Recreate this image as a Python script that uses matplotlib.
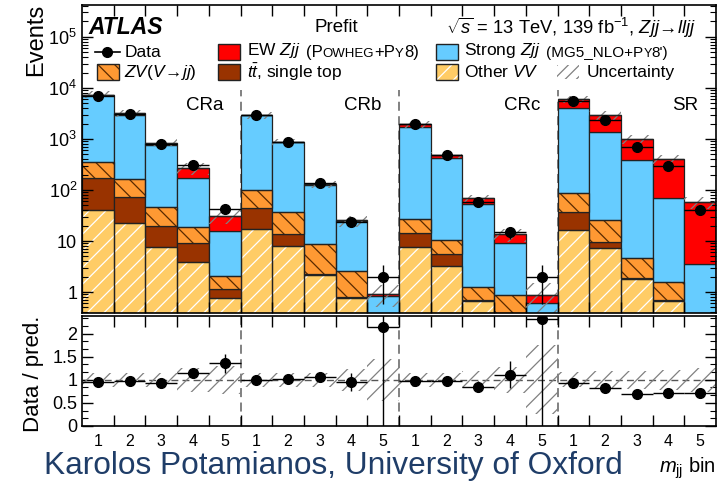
import matplotlib

matplotlib.use("Agg")

import matplotlib.pyplot as plt
import numpy as np
from matplotlib.patches import Rectangle
from matplotlib.lines import Line2D
from matplotlib.ticker import FixedLocator, NullFormatter, AutoMinorLocator

plt.rcParams["font.family"] = "Liberation Sans"
plt.rcParams["mathtext.fontset"] = "custom"
plt.rcParams["mathtext.rm"] = "Liberation Sans"
plt.rcParams["mathtext.it"] = "Liberation Sans:italic"
plt.rcParams["mathtext.bf"] = "Liberation Sans:bold"
plt.rcParams["hatch.linewidth"] = 0.9

# 20 bins: CRa, CRb, CRc, SR with 5 m_jj bins each
regions = ["CRa", "CRb", "CRc", "SR"]
bin_labels = ["1", "2", "3", "4", "5"] * 4

other_vv = [40, 23, 7.5, 3.9, 0.75,
            17.2, 8.1, 2.15, 0.75, 0.02,
            7.7, 3.2, 0.68, 0.3, 0.01,
            16.4, 7.2, 1.77, 0.68, 0.1]
ttbar = [132, 50, 12.5, 5.4, 0.38,
         27.8, 5.4, 0.15, 0.05, 0.01,
         6.4, 2.3, 0.02, 0.02, 0.005,
         21.2, 2.5, 0.1, 0.02, 0.01]
zv = [186, 92, 26, 9.2, 0.97,
      55, 24.1, 6.3, 1.8, 0.02,
      12.5, 4.9, 0.54, 0.55, 0.015,
      48.4, 16.3, 2.73, 0.85, 0.2]
strong_zjj = [6942, 2785, 714, 151.5, 13.8,
              2830, 815, 118, 22.2, 0.78,
              1713, 408, 51.8, 8.13, 0.57,
              4014, 1324, 382.4, 67.5, 3.2]
ew_zjj = [100, 250, 90, 97, 15.1,
          20, 7, 2.4, 0.5, 0.1,
          220, 72, 16, 4.5, 0.26,
          1900, 1530, 613, 336, 54]
data = [6990, 3136, 790, 307, 42,
        2920, 869, 138, 24, 2,
        1920, 480, 59, 15, 2,
        5520, 2390, 700, 292, 41]
rel_unc = [0.15, 0.15, 0.15, 0.26, 0.30,
           0.15, 0.15, 0.15, 0.24, 0.45,
           0.15, 0.15, 0.18, 0.28, 0.75,
           0.16, 0.20, 0.20, 0.22, 0.26]

c_vv = "#ffcc66"
c_tt = "#993300"
c_zv = "#ff9933"
c_strong = "#66ccff"
c_ew = "#ff0000"
c_unc = "#808080"

W, H = 720, 482


def fx(px):
    return px / W


def fy(py):
    return 1 - py / H


x = np.arange(1, 21)
data = np.array(data, dtype=float)
comps = [np.array(c, dtype=float) for c in (other_vv, ttbar, zv, strong_zjj, ew_zjj)]
total = np.sum(comps, axis=0)
unc = np.array(rel_unc)
ratio = data / total

fig = plt.figure(figsize=(7.2, 4.82), dpi=100)
ax = fig.add_axes([fx(82), fy(313), (716 - 82) / W, (313 - 5) / H])
rax = fig.add_axes([fx(82), fy(426), (716 - 82) / W, (426 - 316) / H])

ymin, ymax = 0.39, 4.2e5

# region separators sit behind the stack
for xs in (5.5, 10.5, 15.5):
    ax.plot([xs, xs], [ymin, 9e3], ls=(0, (5, 3)), color="#777777", lw=1.3, zorder=0.5)
    rax.axvline(xs, ls=(0, (5, 3)), color="#777777", lw=1.3, zorder=0.5)

# stacked backgrounds
bottom = np.full(20, 1e-3)
styles = [(c_vv, "//", "white"), (c_tt, None, None), (c_zv, "\\\\", "#5a2a00"),
          (c_strong, None, None), (c_ew, None, None)]
for vals, (fc, hatch, hc) in zip(comps, styles):
    if hatch:
        ax.bar(x, vals, width=1.0, bottom=bottom, color=fc, hatch=hatch,
               edgecolor=hc, lw=0, zorder=1)
        ax.bar(x, vals, width=1.0, bottom=bottom, facecolor="none",
               edgecolor="#222222", lw=0.9, zorder=1.1)
    else:
        ax.bar(x, vals, width=1.0, bottom=bottom, color=fc,
               edgecolor="#222222", lw=0.9, zorder=1)
    bottom = bottom + vals

# uncertainty band
ax.bar(x, 2 * unc * total, width=1.0, bottom=total * (1 - unc), facecolor="none",
       edgecolor=c_unc, hatch="//", lw=0, zorder=2)
ax.hlines(total, x - 0.5, x + 0.5, color="#222222", lw=1.0, zorder=2.1)

ax.errorbar(x, data, yerr=np.sqrt(data), xerr=0.5, fmt="o", color="black",
            ms=7, elinewidth=1.0, capsize=0, zorder=3)

ax.set_yscale("log")
ax.set_ylim(ymin, ymax)
ax.set_xlim(0.5, 20.5)
ax.yaxis.set_major_locator(FixedLocator([1, 10, 1e2, 1e3, 1e4, 1e5]))
ax.set_yticklabels(["1", "10", "$10^2$", "$10^3$", "$10^4$", "$10^5$"], fontsize=13)
ax.xaxis.set_major_locator(FixedLocator(np.arange(1.5, 20.5, 1.0)))
ax.xaxis.set_major_formatter(NullFormatter())
ax.tick_params(which="both", direction="in", top=True, right=True)
ax.tick_params(which="major", length=8, width=1)
ax.tick_params(which="minor", length=4, width=0.8)
ax.tick_params(axis="x", which="minor", length=0)

for r, xr in zip(regions, (5.5, 10.5, 15.5, 20.5)):
    ax.text(xr - 0.55, 4.5e3, r, ha="right", va="center", fontsize=13.5)

# ratio panel
rax.bar(x, 2 * unc, width=1.0, bottom=1 - unc, facecolor="none",
        edgecolor=c_unc, hatch="//", lw=0, zorder=2)
rax.axhline(1, ls=(0, (5, 3)), color="#555555", lw=1.0, zorder=1)
r_err = np.sqrt(data) / total
r_lo = np.where(data <= 2, ratio, r_err)
rax.errorbar(x, ratio, yerr=[r_lo, r_err], xerr=0.5, fmt="o", color="black",
             ms=7, elinewidth=1.0, capsize=0, zorder=3)
rax.set_xlim(0.5, 20.5)
rax.set_ylim(0, 2.38)
rax.yaxis.set_major_locator(FixedLocator([0, 0.5, 1, 1.5, 2]))
rax.set_yticklabels(["0", "0.5", "1", "1.5", "2"], fontsize=13)
rax.yaxis.set_minor_locator(AutoMinorLocator(3))
rax.xaxis.set_major_locator(FixedLocator(np.arange(1.5, 20.5, 1.0)))
rax.xaxis.set_major_formatter(NullFormatter())
rax.xaxis.set_minor_locator(FixedLocator(x))
rax.set_xticklabels(bin_labels, minor=True, fontsize=11.5)
rax.tick_params(which="both", direction="in", top=True, right=True)
rax.tick_params(which="major", length=8, width=1)
rax.tick_params(axis="y", which="minor", length=4, width=0.8)
rax.tick_params(axis="x", which="minor", length=0, pad=6)

for a in (ax, rax):
    for s in a.spines.values():
        s.set_linewidth(1.2)

fig.text(fx(36), fy(4), "Events", rotation=90, ha="center", va="top", fontsize=17)
fig.text(fx(34), fy(374), "Data / pred.", rotation=90, ha="center", va="center", fontsize=16)

# header line
fig.text(fx(88), fy(28), "ATLAS", fontsize=16.5, weight="bold", style="italic",
         ha="left", va="center")
fig.text(fx(336), fy(28), "Prefit", fontsize=13.5, ha="center", va="center")
fig.text(fx(696), fy(28), r"$\sqrt{s}$ = 13 TeV, 139 fb$^{\mathregular{-1}}$, $Zjj\!\rightarrow\! lljj$",
         fontsize=13.2, ha="right", va="center")


def chain(x0, y0, pieces):
    """Write a run of text pieces with individual sizes, one after another."""
    prev = fig.text(fx(x0), fy(y0), pieces[0][0], fontsize=pieces[0][1],
                    ha="left", va="bottom")
    for s, size, gap in pieces[1:]:
        prev = fig.axes[0].annotate(s, xy=(1, 0), xycoords=prev, xytext=(gap, 0),
                                    textcoords="offset points", fontsize=size,
                                    ha="left", va="bottom", annotation_clip=False)
    return prev


def box(x0, y0, fc, hatch=None, hc=None):
    if hatch:
        fig.add_artist(Rectangle((fx(x0), fy(y0 + 8)), 22 / W, 16 / H, transform=fig.transFigure,
                                 facecolor=fc, hatch=hatch, edgecolor=hc, lw=0))
    fig.add_artist(Rectangle((fx(x0), fy(y0 + 8)), 22 / W, 16 / H, transform=fig.transFigure,
                             facecolor=fc if not hatch else "none", edgecolor="#222222", lw=1.0))


# legend, row 1
fig.add_artist(Line2D([fx(95), fx(120)], [fy(52), fy(52)], color="black", lw=1.2))
fig.add_artist(Line2D([fx(107)], [fy(52)], color="black", marker="o", ms=7))
fig.text(fx(125), fy(52), "Data", fontsize=12.5, ha="left", va="center")
box(218, 52, c_ew)
chain(247, 60, [("EW $Zjj$", 12.5, 0), ("(P", 12, 4), ("OWHEG", 9.5, 0), ("+P", 12, 0),
                ("Y", 9.5, 0), ("8)", 12, 0)])
box(436, 52, c_strong)
chain(464, 60, [("Strong $Zjj$", 12.5, 0), ("(MG5_NLO+P", 11, 4), ("Y", 9, 0), ("8')", 11, 0)])

# legend, row 2
box(97, 72, c_zv, "\\\\", "#5a2a00")
fig.text(fx(124), fy(72), r"$ZV(V\!\rightarrow\! jj)$", fontsize=12.5, ha="left", va="center")
box(218, 72, c_tt)
fig.text(fx(247), fy(72), r"$t\bar{t}$, single top", fontsize=12.5, ha="left", va="center")
box(436, 72, c_vv, "//", "white")
fig.text(fx(464), fy(72), r"Other $VV$", fontsize=12.5, ha="left", va="center")
fig.add_artist(Rectangle((fx(557), fy(79)), 22 / W, 14 / H, transform=fig.transFigure,
                         facecolor="none", hatch="///", edgecolor=c_unc, lw=0))
fig.text(fx(587), fy(72), "Uncertainty", fontsize=12.5, ha="left", va="center")

fig.text(fx(44), fy(466), "Karolos Potamianos, University of Oxford", fontsize=22.8,
         color="#1f3d68", ha="left", va="center")
fig.text(fx(716), fy(473), r"$m_{\mathregular{jj}}$ bin", fontsize=14.5, ha="right",
         va="baseline")

fig.savefig("out.png", dpi=100)
